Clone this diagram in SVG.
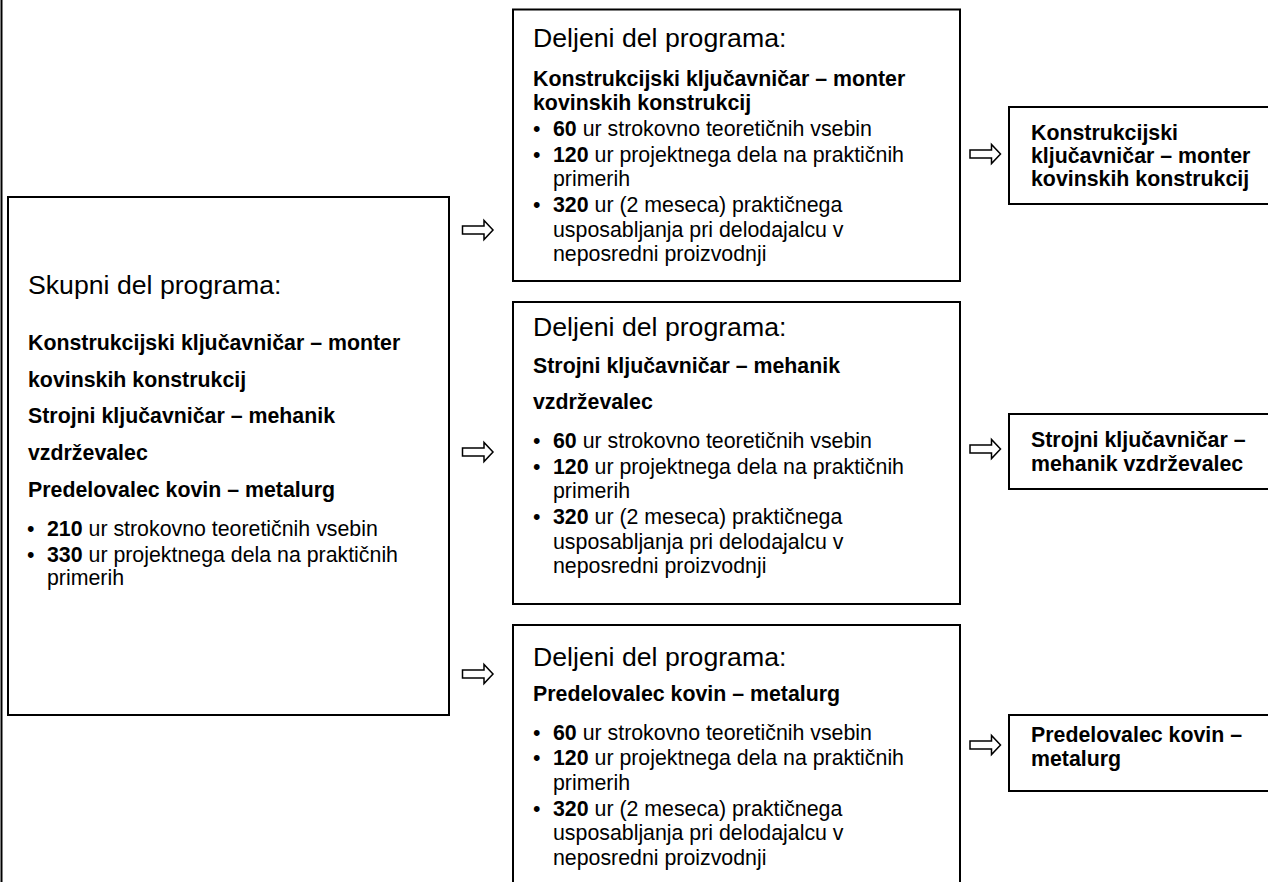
<svg xmlns="http://www.w3.org/2000/svg" xmlns:xlink="http://www.w3.org/1999/xlink" width="1268" height="882" viewBox="0 0 1268 882">
<style>
.box{fill:#fff;stroke:#000;stroke-width:2}
.edge{stroke:#000;stroke-width:2}
.t{font-family:"Liberation Sans",Arial,sans-serif;fill:#000}
.h{font-size:26.67px}
.r{font-size:21.33px}
.b{font-size:21.33px;font-weight:bold}
.bb{font-weight:bold}
.arr{fill:#fff;stroke:#000;stroke-width:1.5;stroke-linejoin:miter}
</style>
<defs>
<path id="arrow" class="arr" d="M0,-4 H21.5 V-9.5 L30.5,0 L21.5,9.5 V4 H0 Z"/>
</defs>
<rect width="1268" height="882" fill="#fff"/>
<line class="edge" x1="1.5" y1="0" x2="1.5" y2="882"/>

<g id="skupni">
<rect class="box" x="8" y="197" width="441" height="518"/>
<text class="t h" x="28" y="294">Skupni del programa:</text>
<text class="t b" x="28" y="350">Konstrukcijski ključavničar – monter</text>
<text class="t b" x="28" y="387">kovinskih konstrukcij</text>
<text class="t b" x="28" y="423">Strojni ključavničar – mehanik</text>
<text class="t b" x="28" y="460">vzdrževalec</text>
<text class="t b" x="28" y="497">Predelovalec kovin – metalurg</text>
<text class="t r" x="27" y="536">•</text>
<text class="t r" x="47" y="536"><tspan class="bb">210</tspan> ur strokovno teoretičnih vsebin</text>
<text class="t r" x="27" y="562">•</text>
<text class="t r" x="47" y="562"><tspan class="bb">330</tspan> ur projektnega dela na praktičnih</text>
<text class="t r" x="47" y="585">primerih</text>
</g>

<g id="deljeni1">
<rect class="box" x="513" y="9.5" width="447" height="271.5"/>
<text class="t h" x="533" y="47">Deljeni del programa:</text>
<text class="t b" x="533" y="86">Konstrukcijski ključavničar – monter</text>
<text class="t b" x="533" y="110">kovinskih konstrukcij</text>
<text class="t r" x="533" y="136">•</text>
<text class="t r" x="553" y="136"><tspan class="bb">60</tspan> ur strokovno teoretičnih vsebin</text>
<text class="t r" x="533" y="161.5">•</text>
<text class="t r" x="553" y="161.5"><tspan class="bb">120</tspan> ur projektnega dela na praktičnih</text>
<text class="t r" x="553" y="186">primerih</text>
<text class="t r" x="533" y="212">•</text>
<text class="t r" x="553" y="212"><tspan class="bb">320</tspan> ur (2 meseca) praktičnega</text>
<text class="t r" x="553" y="236.5">usposabljanja pri delodajalcu v</text>
<text class="t r" x="553" y="261">neposredni proizvodnji</text>
</g>

<g id="deljeni2">
<rect class="box" x="513" y="302" width="447" height="302"/>
<text class="t h" x="533" y="336">Deljeni del programa:</text>
<text class="t b" x="533" y="373">Strojni ključavničar – mehanik</text>
<text class="t b" x="533" y="409">vzdrževalec</text>
<text class="t r" x="533" y="448">•</text>
<text class="t r" x="553" y="448"><tspan class="bb">60</tspan> ur strokovno teoretičnih vsebin</text>
<text class="t r" x="533" y="473.5">•</text>
<text class="t r" x="553" y="473.5"><tspan class="bb">120</tspan> ur projektnega dela na praktičnih</text>
<text class="t r" x="553" y="498">primerih</text>
<text class="t r" x="533" y="524">•</text>
<text class="t r" x="553" y="524"><tspan class="bb">320</tspan> ur (2 meseca) praktičnega</text>
<text class="t r" x="553" y="548.5">usposabljanja pri delodajalcu v</text>
<text class="t r" x="553" y="573">neposredni proizvodnji</text>
</g>

<g id="deljeni3">
<rect class="box" x="513" y="625" width="447" height="300"/>
<text class="t h" x="533" y="666">Deljeni del programa:</text>
<text class="t b" x="533" y="701">Predelovalec kovin – metalurg</text>
<text class="t r" x="533" y="739.5">•</text>
<text class="t r" x="553" y="739.5"><tspan class="bb">60</tspan> ur strokovno teoretičnih vsebin</text>
<text class="t r" x="533" y="765">•</text>
<text class="t r" x="553" y="765"><tspan class="bb">120</tspan> ur projektnega dela na praktičnih</text>
<text class="t r" x="553" y="789.5">primerih</text>
<text class="t r" x="533" y="815.5">•</text>
<text class="t r" x="553" y="815.5"><tspan class="bb">320</tspan> ur (2 meseca) praktičnega</text>
<text class="t r" x="553" y="840">usposabljanja pri delodajalcu v</text>
<text class="t r" x="553" y="864.5">neposredni proizvodnji</text>
</g>

<g id="poklic1">
<rect class="box" x="1009" y="107" width="300" height="97"/>
<text class="t b" x="1031" y="139.5">Konstrukcijski</text>
<text class="t b" x="1031" y="162.5">ključavničar – monter</text>
<text class="t b" x="1031" y="185.5">kovinskih konstrukcij</text>
</g>

<g id="poklic2">
<rect class="box" x="1009" y="414" width="300" height="75"/>
<text class="t b" x="1031" y="447">Strojni ključavničar –</text>
<text class="t b" x="1031" y="471">mehanik vzdrževalec</text>
</g>

<g id="poklic3">
<rect class="box" x="1009" y="715" width="300" height="76"/>
<text class="t b" x="1031" y="742">Predelovalec kovin –</text>
<text class="t b" x="1031" y="766">metalurg</text>
</g>

<g id="connectors">
<use xlink:href="#arrow" x="462.5" y="230"/>
<use xlink:href="#arrow" x="462.5" y="452"/>
<use xlink:href="#arrow" x="462.5" y="674"/>
<use xlink:href="#arrow" x="970" y="154"/>
<use xlink:href="#arrow" x="970" y="449"/>
<use xlink:href="#arrow" x="970" y="745"/>
</g>
</svg>
